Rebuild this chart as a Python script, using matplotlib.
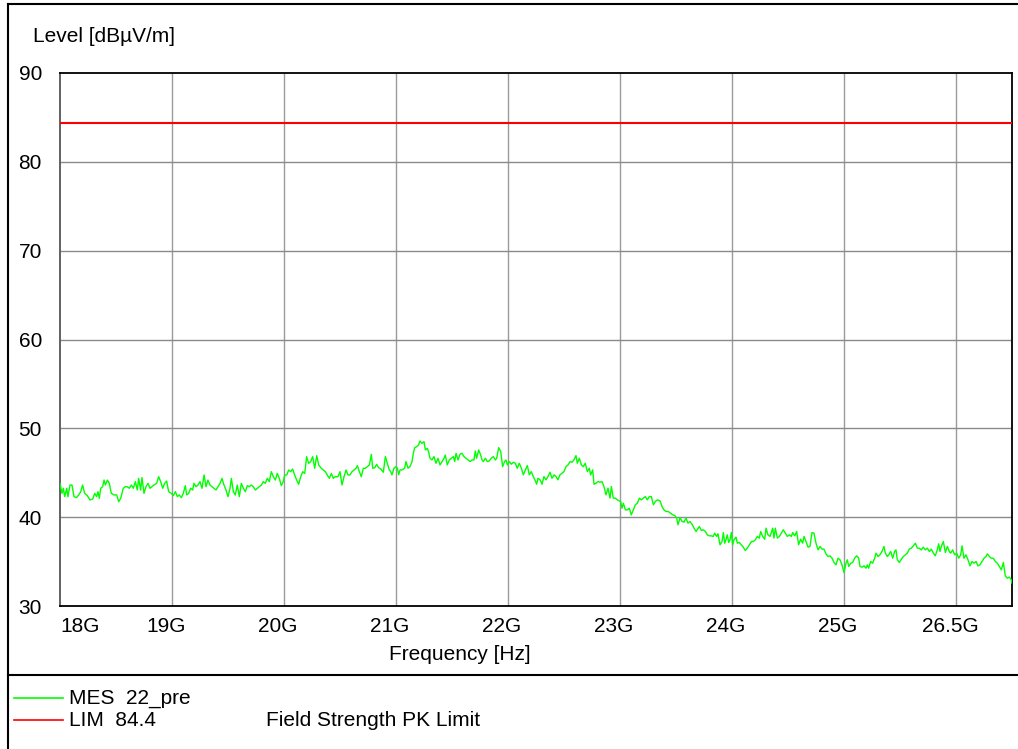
import matplotlib
matplotlib.use("Agg")
import matplotlib.pyplot as plt
from matplotlib.lines import Line2D
from matplotlib.transforms import ScaledTranslation

plt.rcParams['font.family'] = ['Liberation Sans', 'DejaVu Sans']

# ---------------- data ----------------
freq_a = [18.000, 18.018, 18.030, 18.042, 18.060, 18.071, 18.089, 18.107, 18.125, 18.146,
          18.167, 18.185, 18.202, 18.220, 18.244, 18.268, 18.292, 18.310, 18.327, 18.339,
          18.351, 18.363, 18.381, 18.393, 18.405, 18.423, 18.440, 18.458, 18.482, 18.506,
          18.524, 18.542, 18.565, 18.583, 18.601, 18.619, 18.637, 18.655, 18.673, 18.690,
          18.702, 18.720, 18.732, 18.750, 18.768, 18.786, 18.804, 18.821, 18.839, 18.863,
          18.881, 18.899, 18.917, 18.935, 18.952, 18.970, 18.994, 19.012, 19.030, 19.048,
          19.065, 19.083, 19.101, 19.119, 19.131, 19.149, 19.167, 19.185, 19.196, 19.214,
          19.232, 19.250, 19.268, 19.286, 19.304, 19.321, 19.339, 19.357, 19.375, 19.393,
          19.411, 19.429, 19.446, 19.464, 19.482, 19.500, 19.518, 19.530, 19.548, 19.565,
          19.583, 19.601, 19.619, 19.637, 19.655, 19.673, 19.690, 19.708, 19.726, 19.744,
          19.762, 19.780, 19.798, 19.815, 19.833, 19.851, 19.869, 19.887, 19.905, 19.923,
          19.940, 19.958, 19.976, 19.994, 20.006, 20.024, 20.042, 20.060, 20.077, 20.095,
          20.113, 20.131, 20.149, 20.167, 20.185, 20.202, 20.220, 20.238, 20.256, 20.274,
          20.292, 20.310, 20.333, 20.351, 20.369, 20.387, 20.405, 20.423, 20.440, 20.458,
          20.482, 20.500, 20.518, 20.536, 20.554, 20.571, 20.589, 20.607, 20.625, 20.643,
          20.655, 20.673, 20.690, 20.708, 20.726, 20.744, 20.762, 20.780, 20.792, 20.810,
          20.827, 20.845]
level_a = [43.81, 42.68, 43.25, 42.31, 43.25, 42.31, 43.62, 43.62, 42.31, 42.20,
           42.50, 42.87, 43.62, 42.68, 42.42, 41.93, 42.05, 42.68, 42.31, 42.87,
           42.12, 43.25, 43.43, 44.18, 43.62, 44.18, 43.81, 42.68, 42.50, 42.50,
           41.74, 42.12, 43.25, 43.43, 43.43, 43.25, 43.62, 43.25, 44.00, 43.06,
           44.37, 43.06, 44.45, 42.68, 43.43, 43.81, 43.25, 43.43, 43.62, 43.81,
           44.56, 44.00, 43.25, 43.81, 44.07, 42.87, 42.68, 42.42, 42.87, 42.31,
           42.50, 42.20, 42.68, 43.55, 42.50, 42.68, 43.25, 43.06, 43.81, 43.43,
           43.62, 44.00, 43.25, 44.75, 43.43, 44.18, 43.62, 43.43, 43.25, 43.06,
           43.43, 43.81, 44.37, 43.62, 43.06, 42.31, 43.25, 44.37, 42.87, 42.50,
           43.62, 42.31, 43.81, 43.25, 42.87, 43.55, 43.43, 43.62, 43.43, 43.06,
           43.25, 43.43, 43.62, 44.00, 43.81, 44.37, 44.00, 45.12, 44.56, 44.18,
           44.93, 44.37, 43.55, 44.00, 44.75, 44.75, 45.31, 45.12, 45.42, 44.75,
           44.18, 43.70, 44.56, 45.12, 44.93, 46.81, 46.06, 46.25, 46.81, 45.50,
           46.92, 45.87, 45.50, 45.31, 45.12, 44.75, 44.37, 44.93, 44.37, 44.56,
           44.56, 45.12, 43.62, 44.56, 45.31, 44.75, 44.75, 45.12, 45.31, 45.50,
           45.80, 45.12, 44.56, 45.50, 45.50, 45.69, 45.87, 47.07, 45.50, 45.57,
           45.95, 45.57]

freq_b = [20.863, 20.887, 20.905, 20.923, 20.940, 20.952, 20.964, 20.982, 21.000, 21.012,
          21.024, 21.036, 21.054, 21.077, 21.089, 21.107, 21.125, 21.143, 21.155, 21.167,
          21.185, 21.202, 21.214, 21.232, 21.250, 21.262, 21.280, 21.292, 21.304, 21.321,
          21.339, 21.357, 21.375, 21.393, 21.411, 21.429, 21.440, 21.458, 21.476, 21.494,
          21.512, 21.524, 21.536, 21.554, 21.571, 21.589, 21.607, 21.625, 21.643, 21.661,
          21.679, 21.696, 21.708, 21.720, 21.738, 21.756, 21.768, 21.780, 21.798, 21.815,
          21.833, 21.851, 21.869, 21.887, 21.899, 21.917, 21.935, 21.952, 21.970, 21.982,
          21.994, 22.012, 22.030, 22.048, 22.065, 22.083, 22.101, 22.119, 22.137, 22.155,
          22.173, 22.190, 22.208, 22.226, 22.244, 22.256, 22.268, 22.286, 22.304, 22.321,
          22.339, 22.357, 22.375, 22.393, 22.411, 22.429, 22.446, 22.464, 22.482, 22.500,
          22.518, 22.536, 22.554, 22.571, 22.589, 22.607, 22.619, 22.637, 22.655, 22.673,
          22.690, 22.708, 22.726, 22.738, 22.756, 22.768, 22.786, 22.804, 22.821, 22.839,
          22.857, 22.875, 22.893, 22.911, 22.923, 22.940, 22.958, 22.976, 22.994, 23.006,
          23.018, 23.030, 23.048, 23.065, 23.083, 23.101, 23.119, 23.137, 23.155, 23.173,
          23.190, 23.208, 23.226, 23.244, 23.262, 23.280, 23.298, 23.315, 23.333, 23.357,
          23.375, 23.393, 23.411, 23.429, 23.452, 23.470, 23.488, 23.506, 23.518, 23.536,
          23.554, 23.571, 23.589, 23.607, 23.625, 23.643, 23.661, 23.679]
level_b = [45.43, 45.06, 46.82, 46.07, 45.32, 45.13, 44.76, 45.51, 45.69, 45.51,
           44.76, 45.32, 45.32, 45.51, 46.26, 45.51, 45.69, 46.26, 47.19, 47.83,
           47.94, 48.13, 48.58, 48.31, 48.50, 47.57, 47.75, 47.30, 46.63, 46.44,
           46.82, 46.07, 46.63, 45.88, 46.26, 46.63, 47.00, 45.88, 46.44, 46.63,
           46.82, 46.26, 47.19, 46.44, 47.08, 47.19, 46.82, 46.63, 46.44, 46.26,
           46.44, 46.44, 47.45, 46.63, 47.57, 47.00, 46.44, 46.26, 46.63, 46.26,
           46.33, 46.63, 46.82, 46.44, 46.63, 47.83, 47.38, 45.69, 46.26, 46.44,
           45.88, 46.26, 45.96, 46.18, 46.07, 45.51, 46.07, 45.51, 44.76, 45.32,
           45.81, 44.76, 45.13, 44.57, 44.08, 43.71, 44.38, 44.20, 43.71, 44.57,
           44.20, 44.57, 45.06, 44.38, 44.76, 44.57, 44.20, 44.76, 44.94, 45.13,
           45.69, 45.88, 46.26, 46.18, 46.44, 46.93, 46.07, 46.63, 45.88, 45.69,
           46.07, 45.13, 45.51, 44.76, 45.32, 43.71, 43.82, 44.01, 43.93, 44.01,
           43.45, 42.51, 43.26, 42.14, 43.45, 42.14, 42.14, 41.95, 41.84, 41.76,
           41.01, 41.57, 40.82, 40.82, 41.01, 40.26, 40.82, 41.39, 41.57, 42.14,
           41.95, 42.14, 42.32, 41.95, 42.32, 42.32, 41.39, 41.76, 41.95, 41.84,
           41.20, 40.82, 40.64, 40.64, 40.45, 40.26, 40.19, 39.89, 39.14, 39.96,
           39.51, 39.44, 39.89, 39.33, 39.51, 39.21, 38.76, 38.39]

freq_c = [23.708, 23.726, 23.744, 23.762, 23.780, 23.798, 23.815, 23.833, 23.845, 23.863,
          23.875, 23.893, 23.911, 23.923, 23.935, 23.946, 23.958, 23.970, 23.982, 23.994,
          24.006, 24.018, 24.036, 24.048, 24.065, 24.083, 24.101, 24.119, 24.137, 24.155,
          24.173, 24.190, 24.208, 24.226, 24.244, 24.256, 24.274, 24.292, 24.304, 24.321,
          24.339, 24.351, 24.363, 24.375, 24.387, 24.405, 24.423, 24.440, 24.458, 24.476,
          24.494, 24.512, 24.530, 24.542, 24.560, 24.577, 24.595, 24.613, 24.631, 24.643,
          24.661, 24.679, 24.696, 24.714, 24.732, 24.750, 24.768, 24.786, 24.804, 24.821,
          24.839, 24.857, 24.875, 24.893, 24.911, 24.929, 24.946, 24.964, 24.982, 25.000,
          25.018, 25.030, 25.042, 25.060, 25.077, 25.095, 25.113, 25.131, 25.143, 25.161,
          25.179, 25.196, 25.208, 25.220, 25.238, 25.256, 25.274, 25.286, 25.304, 25.321,
          25.339, 25.357, 25.369, 25.387, 25.399, 25.417, 25.435, 25.452, 25.464, 25.476,
          25.494, 25.512, 25.530, 25.548, 25.565, 25.583, 25.601, 25.619, 25.637, 25.655,
          25.673, 25.690, 25.708, 25.726, 25.744, 25.762, 25.780, 25.798, 25.815, 25.833,
          25.845, 25.857, 25.869, 25.887, 25.905, 25.923, 25.940, 25.952, 25.970, 25.988,
          26.006, 26.024, 26.042, 26.054, 26.071, 26.089, 26.107, 26.125, 26.143, 26.161,
          26.179, 26.196, 26.214, 26.232, 26.250, 26.268, 26.280, 26.298, 26.315, 26.333,
          26.351, 26.369, 26.387, 26.405, 26.423, 26.440, 26.458, 26.476, 26.494, 26.500]
level_c = [38.95, 38.50, 38.58, 38.39, 38.01, 37.90, 37.90, 37.83, 38.20, 37.83,
           38.13, 36.89, 37.26, 38.27, 37.07, 37.45, 38.01, 37.15, 37.45, 38.27,
           36.89, 37.45, 37.75, 37.07, 37.15, 36.89, 36.62, 36.25, 36.51, 36.89,
           37.26, 37.26, 37.45, 37.83, 37.64, 38.39, 37.83, 37.52, 38.76, 38.01,
           37.83, 38.27, 38.76, 37.64, 38.76, 37.64, 37.83, 38.20, 38.58, 38.20,
           37.83, 38.01, 37.83, 38.27, 37.90, 38.39, 36.89, 37.52, 37.07, 37.83,
           37.26, 36.62, 36.70, 38.27, 38.20, 37.07, 36.32, 36.70, 36.40, 36.40,
           35.87, 35.57, 35.65, 35.38, 34.90, 34.63, 35.38, 35.20, 34.63, 33.77,
           34.82, 35.20, 34.45, 34.82, 34.90, 35.38, 35.65, 35.38, 34.45, 34.37,
           34.52, 34.26, 34.63, 34.26, 35.01, 34.82, 35.38, 35.95, 35.57, 35.76,
           36.14, 36.70, 35.95, 35.57, 35.76, 36.14, 35.38, 36.14, 36.32, 35.20,
           34.90, 35.27, 35.57, 35.76, 35.95, 36.40, 36.51, 36.77, 37.07, 36.51,
           36.51, 36.32, 36.62, 36.32, 36.51, 36.14, 36.40, 35.95, 35.65, 36.32,
           37.00, 36.14, 36.70, 37.26, 36.02, 36.70, 36.14, 35.95, 36.32, 35.76,
           35.95, 35.38, 35.76, 36.77, 35.38, 35.76, 35.20, 34.52, 35.01, 34.82,
           35.01, 34.52, 34.63, 35.01, 35.38, 35.57, 35.87, 35.57, 35.38, 35.38,
           35.01, 34.82, 34.45, 34.07, 34.90, 33.40, 33.13, 33.25, 32.95, 32.57]

mes_freq_ghz = freq_a + freq_b + freq_c
mes_level = level_a + level_b + level_c

limit_level = 84.4
freq_range = [18.0, 26.5]
x_tick_pos = [18, 19, 20, 21, 22, 23, 24, 25, 26]
x_tick_labels = ["18G", "19G", "20G", "21G", "22G", "23G", "24G", "25G", "26.5G"]
y_ticks = [30, 40, 50, 60, 70, 80, 90]

# ---------------- figure ----------------
W, H = 1018, 749
fig = plt.figure(figsize=(W / 100, H / 100), dpi=100)
fs = 15

ax = fig.add_axes([60 / W, 1 - 606 / H, (1012 - 60) / W, (606 - 73) / H])
ax.set_xlim(freq_range)
ax.set_ylim(30, 90)

for xv in x_tick_pos[1:]:
    ax.axvline(xv, color='#9a9a9a', lw=1.0, zorder=1)
for yv in y_ticks[1:-1]:
    ax.axhline(yv, color='#8a8a8a', lw=1.0, zorder=1)

ax.plot(mes_freq_ghz, mes_level, color='#00ff00', lw=1.0, zorder=3)
ax.plot(freq_range, [limit_level, limit_level], color='#ff0000', lw=1.5, zorder=3)

ax.set_yticks(y_ticks)
ax.set_yticklabels([str(v) for v in y_ticks], fontsize=fs)
ax.set_xticks(x_tick_pos)
ax.set_xticklabels(x_tick_labels, fontsize=fs)
ax.tick_params(axis='both', length=0)
ax.tick_params(axis='y', pad=13)
ax.tick_params(axis='x', pad=8)
for i, lab in enumerate(ax.get_xticklabels()):
    if i == 0:
        lab.set_ha('left')
    else:
        lab.set_transform(lab.get_transform() + ScaledTranslation(-6 / 100, 0, fig.dpi_scale_trans))

for s in ax.spines.values():
    s.set_color('black')
    s.set_linewidth(1.3)
ax.spines['left'].set_color('#555555')

# axis titles
fig.text(33 / W, 1 - 37 / H, "Level [dBµV/m]", fontsize=fs, ha='left', va='center')
fig.text(460 / W, 1 - 654 / H, "Frequency [Hz]", fontsize=fs, ha='center', va='center')

# frame lines
fig.add_artist(Line2D([8 / W, 1.0], [1 - 4 / H, 1 - 4 / H], transform=fig.transFigure, color='black', lw=1.5))
fig.add_artist(Line2D([8 / W, 8 / W], [0, 1 - 4 / H], transform=fig.transFigure, color='black', lw=1.5))
fig.add_artist(Line2D([8 / W, 1.0], [1 - 675 / H, 1 - 675 / H], transform=fig.transFigure, color='black', lw=1.5))

# legend
fig.add_artist(Line2D([14 / W, 63 / W], [1 - 698 / H, 1 - 698 / H], transform=fig.transFigure, color='#00ff00', lw=1.2))
fig.add_artist(Line2D([14 / W, 63 / W], [1 - 720 / H, 1 - 720 / H], transform=fig.transFigure, color='#ff0000', lw=1.2))
fig.text(69 / W, 1 - 699 / H, "MES  22_pre", fontsize=fs, ha='left', va='center')
fig.text(69 / W, 1 - 720 / H, "LIM  84.4", fontsize=fs, ha='left', va='center')
fig.text(266 / W, 1 - 720 / H, "Field Strength PK Limit", fontsize=fs, ha='left', va='center')

fig.savefig("out.png", dpi=100)
